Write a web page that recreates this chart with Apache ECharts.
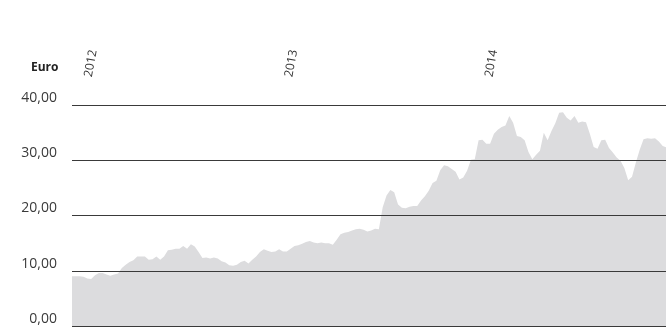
<!DOCTYPE html>
<html>
<head>
<meta charset="utf-8">
<script src="https://cdn.jsdelivr.net/npm/echarts@6/dist/echarts.min.js"></script>
<style>
  html, body { margin: 0; padding: 0; background: #fff; }
  #chart { width: 666px; height: 327px; }
</style>
</head>
<body>
<div id="chart"></div>
<script>
// Share price in euro, weekly closing values from early December 2011
const firstWeek = '2011-12-02';
const axisStart = '2011-12-02';
const axisEnd = '2014-11-20';
const yTicks = [0, 10, 20, 30, 40];
const unitLabel = 'Euro';

const closePrice = [
  9.0, 9.0, 9.0, 8.9, 8.6, 8.5, 9.2, 9.6, 9.6, 9.3,
  9.1, 9.3, 9.5, 10.5, 11.1, 11.6, 11.9, 12.6, 12.6, 12.6,
  12.0, 12.1, 12.6, 12.0, 12.6, 13.7, 13.8, 14.0, 14.0, 14.5,
  14.0, 14.8, 14.4, 13.4, 12.3, 12.4, 12.2, 12.4, 12.2, 11.7,
  11.5, 11.0, 10.9, 11.1, 11.6, 11.8, 11.3, 12.0, 12.6, 13.4,
  13.9, 13.6, 13.4, 13.5, 13.9, 13.5, 13.5, 14.0, 14.5, 14.6,
  14.9, 15.2, 15.4, 15.1, 15.0, 15.1, 15.0, 15.0, 14.7, 15.6,
  16.6, 16.9, 17.0, 17.3, 17.5, 17.6, 17.4, 17.1, 17.3, 17.6,
  17.5, 21.5, 23.6, 24.6, 24.2, 22.0, 21.4, 21.3, 21.6, 21.7,
  21.7, 22.7, 23.5, 24.5, 25.9, 26.3, 28.2, 29.1, 28.9, 28.4,
  27.9, 26.5, 26.9, 28.1, 30.1, 30.2, 33.6, 33.7, 33.0, 33.0,
  34.8, 35.5, 36.0, 36.3, 38.0, 36.8, 34.4, 34.2, 33.6, 31.5,
  30.2, 31.0, 31.7, 35.0, 33.6, 35.3, 36.7, 38.6, 38.7, 37.7,
  37.2, 38.0, 36.8, 37.0, 36.9, 34.8, 32.4, 32.1, 33.6, 33.7,
  32.2, 31.4, 30.5, 29.9, 28.6, 26.4, 27.0, 29.6, 31.9, 33.8,
  34.0, 33.9, 34.0, 33.4, 32.6, 32.3
];

// one date per weekly close
const weekDates = [];
{
  const d0 = new Date(firstWeek + 'T00:00:00Z').getTime();
  for (let i = 0; i < closePrice.length; i++) {
    weekDates.push(d0 + i * 7 * 86400000);
  }
}
const seriesData = weekDates.map((t, i) => [t, closePrice[i]]);

const font = '"Open Sans", "Noto Sans", sans-serif';
const chart = echarts.init(document.getElementById('chart'), null, { renderer: 'canvas' });

chart.setOption({
  animation: false,
  backgroundColor: '#ffffff',
  title: {
    text: unitLabel,
    left: 26,
    top: 57,
    textStyle: { fontFamily: font, fontSize: 12, fontWeight: 'bold', color: '#222' }
  },
  grid: { left: 72, right: 0, top: 105, bottom: 1, containLabel: false },
  xAxis: {
    type: 'time',
    position: 'top',
    min: new Date(axisStart + 'T00:00:00Z').getTime(),
    max: new Date(axisEnd + 'T00:00:00Z').getTime(),
    splitNumber: 3,
    axisLine: { show: false },
    axisTick: { show: false },
    splitLine: { show: false },
    axisLabel: {
      rotate: 80,
      margin: 28,
      showMinLabel: false,
      showMaxLabel: false,
      fontFamily: font,
      fontSize: 12,
      color: '#333',
      formatter: function (v) { return String(new Date(v).getUTCFullYear()); }
    }
  },
  yAxis: {
    type: 'value',
    min: yTicks[0],
    max: yTicks[yTicks.length - 1],
    interval: 10,
    z: 10,
    axisLine: { show: false },
    axisTick: { show: false },
    splitLine: { show: true, lineStyle: { color: '#3a3a3a', width: 1.2 } },
    axisLabel: {
      margin: 15,
      verticalAlign: 'bottom',
      fontFamily: font,
      fontSize: 14,
      color: '#3a3a3a',
      formatter: function (v) { return v.toFixed(2).replace('.', ','); }
    }
  },
  series: [{
    type: 'line',
    data: seriesData,
    showSymbol: false,
    smooth: false,
    lineStyle: { width: 0 },
    areaStyle: { color: '#dcdcde', opacity: 1 },
    silent: true
  }]
});
</script>
</body>
</html>
